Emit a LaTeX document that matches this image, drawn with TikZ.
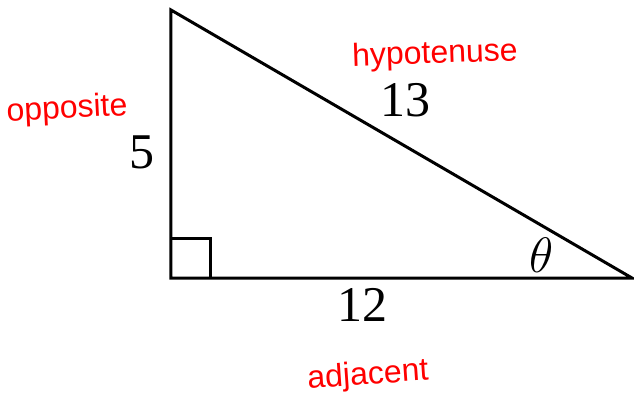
\documentclass[tikz,border=0pt]{standalone}
\usepackage{fontspec}
\setmainfont{Liberation Serif}
\setsansfont{Liberation Sans}
\usepackage{tikz}
\usetikzlibrary{positioning}

\begin{document}
\begin{tikzpicture}[
    x=0.5pt, y=-0.5pt,
    side/.style={line width=1.5pt, black},
    num/.style={font=\fontsize{25}{30}\selectfont, inner sep=0pt},
    note/.style={font=\sffamily\fontsize{16}{18}\selectfont, text=red, inner sep=0pt}
]
    \useasboundingbox (0,0) rectangle (634,402);

    % --- Corners
    \coordinate (Top)   at (171,10);
    \coordinate (Right) at (171,278);
    \coordinate (Far)   at (632,278);

    % --- Triangle and right angle
    \draw[side, line join=miter] (Top) -- (Right) -- (Far) -- cycle;
    \draw[side] (171,238) -- (211,238) -- (211,278);

    % --- Side lengths
    \node[num] (Opp)  at (142,152) {5};
    \node[num] (Hyp)  at (405,100) {13};
    \node[num] (Adj)  at (362,305) {12};
    \node[num] (Ang)  at (542,255) {$\theta$};

    % --- Names of the sides
    \node[note, rotate=3]  (OppName) at (67,110)  {opposite};
    \node[note, rotate=2]  (HypName) at (435,55)  {hypotenuse};
    \node[note, rotate=4]  (AdjName) at (368,376) {adjacent};

\end{tikzpicture}
\end{document}
